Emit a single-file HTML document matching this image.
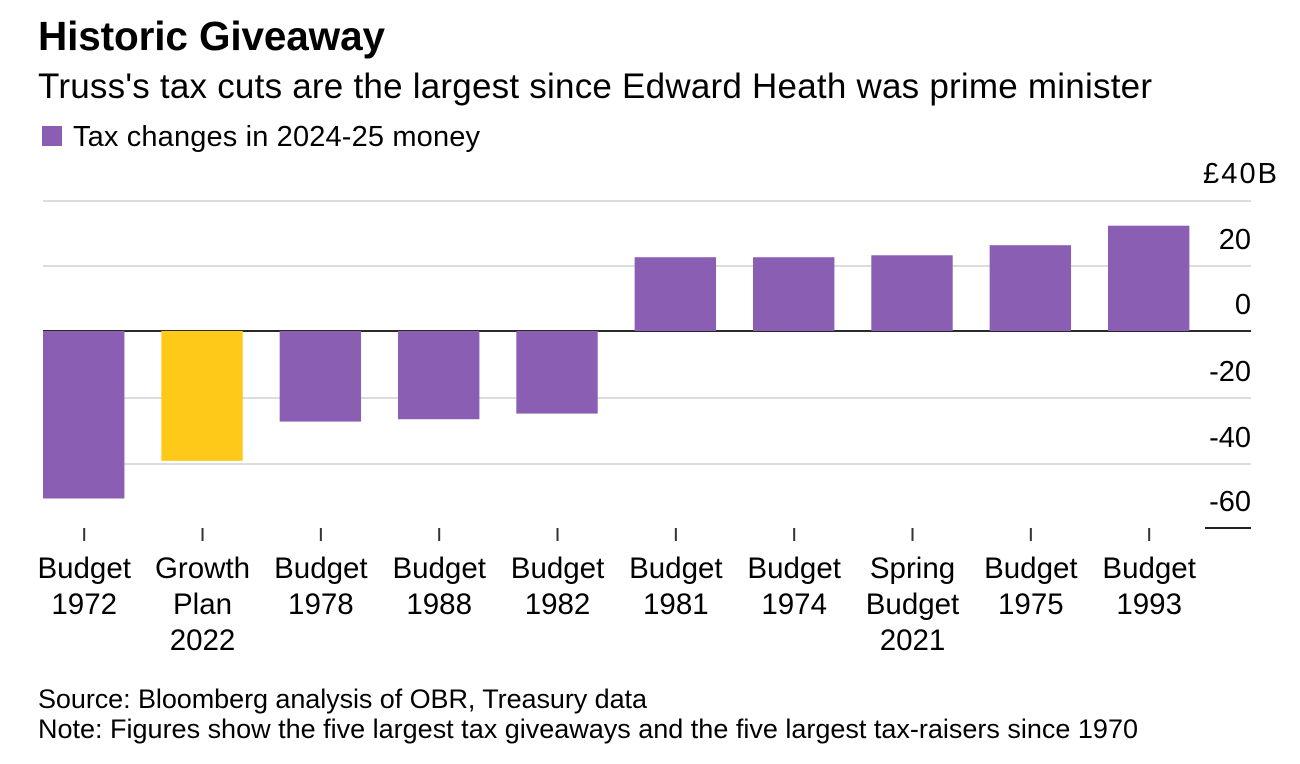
<!DOCTYPE html>
<html lang="en">
<head>
<meta charset="utf-8">
<title>Historic Giveaway</title>
<style>
html,body{margin:0;padding:0;background:#fff;width:1300px;height:764px;overflow:hidden}
svg{display:block}
text{font-family:"Liberation Sans",Arial,sans-serif;fill:#000}
</style>
</head>
<body>
<svg id="chart" width="1300" height="764" viewBox="0 0 1300 764" xmlns="http://www.w3.org/2000/svg">
  <text x="38" y="50" font-size="40.5" font-weight="700" textLength="347" lengthAdjust="spacing">Historic Giveaway</text>
  <text x="38" y="98" font-size="35" textLength="1114" lengthAdjust="spacing">Truss's tax cuts are the largest since Edward Heath was prime minister</text>
  <rect x="42" y="126" width="20" height="20" fill="#8a5fb3"></rect>
  <text x="73" y="146" font-size="29" textLength="407" lengthAdjust="spacing">Tax changes in 2024-25 money</text>
  <g id="grid"></g>
  <g id="bars"></g>
  <g id="axis"></g>
  <text x="38" y="708" font-size="27" textLength="609" lengthAdjust="spacing">Source: Bloomberg analysis of OBR, Treasury data</text>
  <text x="38" y="738" font-size="27" textLength="1100" lengthAdjust="spacing">Note: Figures show the five largest tax giveaways and the five largest tax-raisers since 1970</text>
</svg>
<script>
const categories = [
  ["Budget", "1972"],
  ["Growth", "Plan", "2022"],
  ["Budget", "1978"],
  ["Budget", "1988"],
  ["Budget", "1982"],
  ["Budget", "1981"],
  ["Budget", "1974"],
  ["Spring", "Budget", "2021"],
  ["Budget", "1975"],
  ["Budget", "1993"]
];
const taxChanges = [-50.3, -39.0, -27.2, -26.5, -24.8, 22.7, 22.7, 23.3, 26.4, 32.4];
const highlighted = ["Growth Plan 2022"];
const tickValues = [40, 20, 0, -20, -40, -60];
const tickLabels = ["£40B", "20", "0", "-20", "-40", "-60"];

const NS = "http://www.w3.org/2000/svg";
const plotLeft = 43, plotRight = 1205, axisRight = 1251;
const step = 118.33, barWidth = 81.4;
const zeroY = 331, floorY = 528;
function yScale(v) { return v >= 0 ? zeroY - 3.25 * v : zeroY - 3.33 * v; }
function xCenter(i) { return plotLeft + barWidth / 2 + step * i; }
function make(tag, attrs, parent) {
  const el = document.createElementNS(NS, tag);
  for (const k in attrs) el.setAttribute(k, attrs[k]);
  parent.appendChild(el);
  return el;
}
const grid = document.getElementById("grid");
const bars = document.getElementById("bars");
const axis = document.getElementById("axis");

tickValues.forEach(function (v, i) {
  const y = Math.min(Math.round(yScale(v)), floorY);
  if (v !== 0 && v !== -60) {
    const line = make("line", { x1: plotLeft, x2: axisRight, y1: y, y2: y, stroke: "#dcdcdc", "stroke-width": 2 }, grid);
    
    
  }
  const label = make("text", { x: axisRight, y: y - (i === 0 ? 18 : 17), "font-size": 29, "text-anchor": "end" }, axis);
  
  
  label.textContent = tickLabels[i];
  if (i === 0) {
    label.setAttribute("x", 1277);
    label.setAttribute("textLength", 74);
  }
});

const zeroLine = make("line", { x1: plotLeft, x2: axisRight, y1: zeroY, y2: zeroY, stroke: "#2a2a2a", "stroke-width": 2 }, grid);



const bottomLine = make("line", { x1: plotRight, x2: axisRight, y1: floorY, y2: floorY, stroke: "#222", "stroke-width": 2 }, axis);



taxChanges.forEach(function (v, i) {
  const top = Math.min(yScale(v), zeroY);
  const h = Math.abs(yScale(v) - zeroY);
  const isHighlight = highlighted.indexOf(categories[i].join(" ")) >= 0;
  const bar = make("rect", {
    x: xCenter(i) - barWidth / 2, y: top, width: barWidth, height: h,
    fill: isHighlight ? "#ffc91a" : "#8a5fb3"
  }, bars);
  
  

  const tick = make("line", { x1: xCenter(i) + 0.5, x2: xCenter(i) + 0.5, y1: floorY, y2: 541, stroke: "#333", "stroke-width": 2 }, axis);
  
  

  categories[i].forEach(function (line, j) {
    const t = make("text", { x: xCenter(i) + 0.5, y: 578 + 36 * j, "font-size": 29.5, "text-anchor": "middle" }, axis);
    
    
    t.textContent = line;
  });
});
</script>
</body>
</html>
